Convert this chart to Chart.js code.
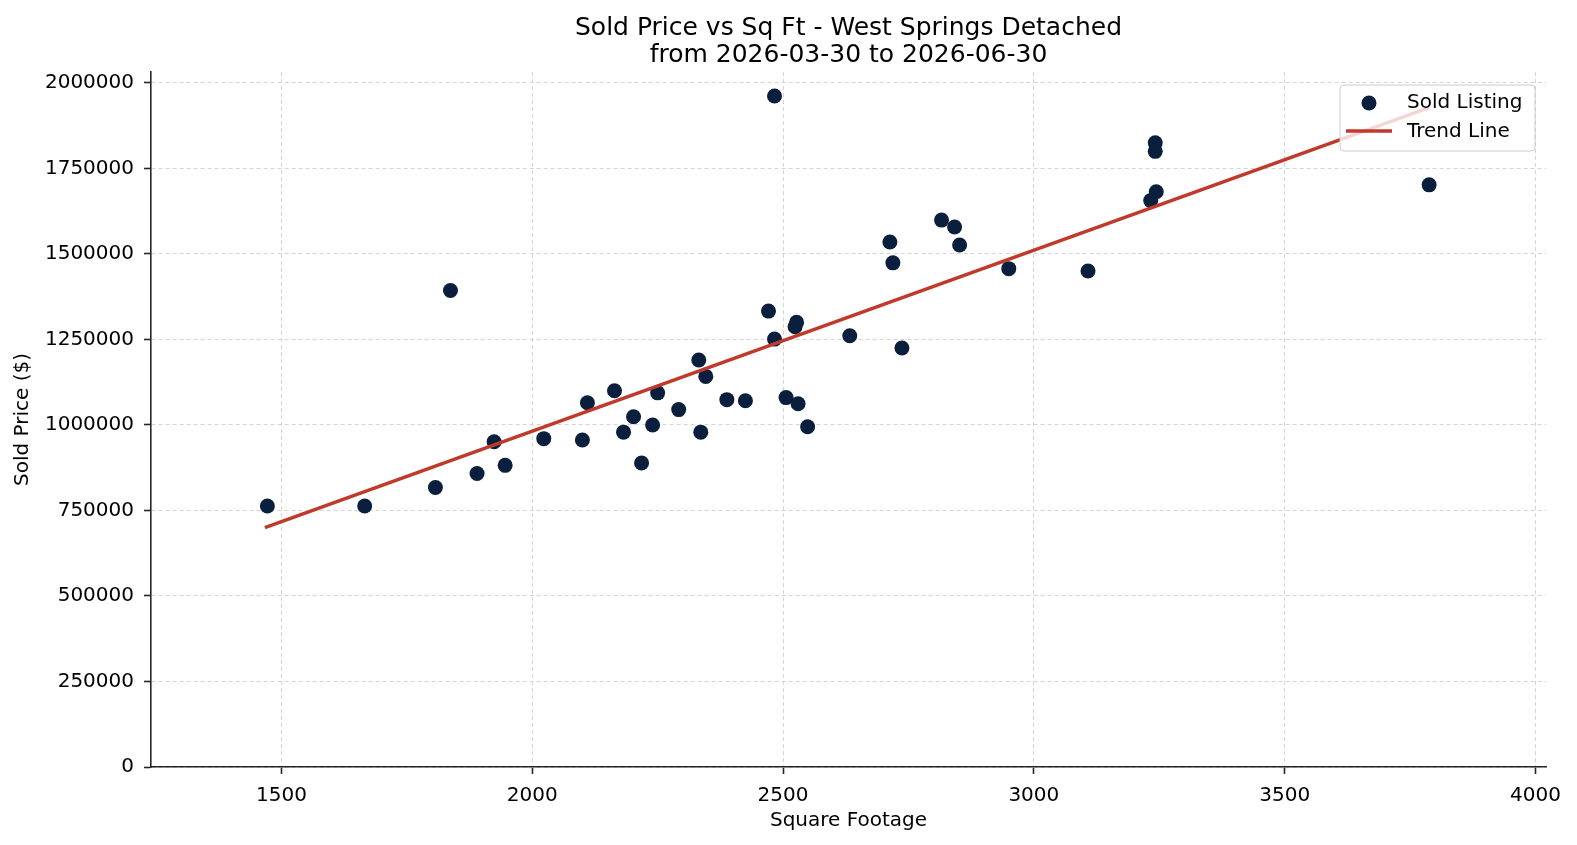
<!DOCTYPE html>
<html lang="en">

<head>
    <meta charset="UTF-8">
    <title>Sold Price vs Sq Ft - West Springs Detached</title>
    <style>
        body {
            margin: 0;
            background: #ffffff;
        }

        canvas {
            display: block;
        }
    </style>
    <script src="https://cdn.jsdelivr.net/npm/chart.js"></script>
</head>

<body>
    <canvas id="myChart" width="1577" height="845"></canvas>

    <script>
        // sold listings
        const sqft = [1472, 1666, 1807, 1837, 1890, 1924, 1946, 2023, 2100, 2110,
            2164, 2182, 2202, 2218, 2240, 2250, 2292, 2332, 2336, 2346,
            2388, 2425, 2471, 2483, 2483, 2506, 2527, 2524, 2530, 2549,
            2633, 2713, 2719, 2737, 2816, 2842, 2852, 2950, 3108, 3233,
            3242, 3242, 3244, 3788];
        const soldPrice = [763000, 763000, 817000, 1393000, 858000, 951000, 882000, 960000, 956000, 1065000,
            1100000, 979000, 1024000, 889000, 1000000, 1094000, 1045000, 1190000, 979000, 1142000,
            1074000, 1071000, 1333000, 1962000, 1251000, 1080000, 1300000, 1287000, 1062000, 995000,
            1261000, 1535000, 1474000, 1225000, 1599000, 1579000, 1526000, 1457000, 1450000, 1656000,
            1825000, 1800000, 1682000, 1702000];

        // trend line end points
        const trendSqft = [1467, 3788];
        const trendPrice = [700000, 1928000];

        const xTicks = [1500, 2000, 2500, 3000, 3500, 4000];
        const yTicks = [0, 250000, 500000, 750000, 1000000, 1250000, 1500000, 1750000, 2000000];

        const FONT = 'DejaVu Sans';
        const AXIS = '#262626';
        const GRID = '#d4d4d4';

        // legend box drawn inside the plot, top right
        const boxLegend = {
            id: 'boxLegend',
            afterDraw(chart) {
                const ctx = chart.ctx;
                const ca = chart.chartArea;
                const w = 195, h = 66;
                const x = ca.right - 11 - w;
                const y = ca.top + 13;
                ctx.save();
                ctx.beginPath();
                ctx.roundRect(x, y, w, h, 4);
                ctx.fillStyle = 'rgba(255,255,255,0.8)';
                ctx.fill();
                ctx.strokeStyle = '#cccccc';
                ctx.lineWidth = 1;
                ctx.stroke();

                const scatter = chart.data.datasets[1];
                const trend = chart.data.datasets[0];
                ctx.fillStyle = scatter.backgroundColor;
                ctx.beginPath();
                ctx.arc(x + 29, y + 18, 7.5, 0, Math.PI * 2);
                ctx.fill();

                ctx.strokeStyle = trend.borderColor;
                ctx.lineWidth = trend.borderWidth;
                ctx.beginPath();
                ctx.moveTo(x + 6, y + 46);
                ctx.lineTo(x + 52, y + 46);
                ctx.stroke();

                ctx.fillStyle = '#000';
                ctx.font = '20px "' + FONT + '"';
                ctx.textBaseline = 'middle';
                ctx.fillText(scatter.label, x + 67, y + 18);
                ctx.fillText(trend.label, x + 67, y + 47);
                ctx.restore();
            }
        };

        const ctx = document.getElementById('myChart').getContext('2d');
        new Chart(ctx, {
            data: {
                datasets: [{
                    type: 'line',
                    label: 'Trend Line',
                    data: trendSqft.map((v, i) => ({ x: v, y: trendPrice[i] })),
                    borderColor: '#c0392b',
                    borderWidth: 3.5,
                    pointRadius: 0,
                    order: 0
                }, {
                    type: 'scatter',
                    label: 'Sold Listing',
                    data: sqft.map((v, i) => ({ x: v, y: soldPrice[i] })),
                    backgroundColor: '#0a1f3d',
                    borderWidth: 0,
                    pointRadius: 7.5,
                    order: 1
                }]
            },
            options: {
                responsive: false,
                animation: false,
                devicePixelRatio: 1,
                layout: {
                    padding: { left: 0, right: 31, top: 0, bottom: 18 }
                },
                plugins: {
                    legend: { display: false },
                    tooltip: { enabled: false },
                    title: {
                        display: true,
                        fullSize: false,
                        text: ['Sold Price vs Sq Ft - West Springs Detached', 'from 2026-03-30 to 2026-06-30'],
                        color: '#000',
                        font: { family: FONT, size: 25, weight: 'normal', lineHeight: 1.08 },
                        padding: { top: 15, bottom: 3 }
                    }
                },
                scales: {
                    x: {
                        type: 'linear',
                        min: 1240,
                        max: 4021,
                        afterBuildTicks: s => { s.ticks = xTicks.map(v => ({ value: v })); },
                        afterFit: s => { s.height -= 3; },
                        grid: { color: GRID, lineWidth: 1, tickLength: 7, tickColor: AXIS, tickWidth: 1.6 },
                        border: { color: AXIS, width: 1.6, dash: [4, 3] },
                        ticks: { color: '#000', font: { family: FONT, size: 20, lineHeight: 1.0 }, padding: 12, maxRotation: 0, callback: v => String(v) },
                        title: { display: true, text: 'Square Footage', color: '#000', font: { family: FONT, size: 20, lineHeight: 0.6 }, padding: { top: 0, bottom: 0 } }
                    },
                    y: {
                        type: 'linear',
                        min: 0,
                        max: 2032000,
                        afterBuildTicks: s => { s.ticks = yTicks.map(v => ({ value: v })); },
                        afterFit: s => { s.width = 151; },
                        grid: { color: GRID, lineWidth: 1, tickLength: 7, tickColor: AXIS, tickWidth: 1.6 },
                        border: { color: AXIS, width: 1.6, dash: [4, 3] },
                        ticks: { color: '#000', font: { family: FONT, size: 20 }, padding: 10, callback: v => String(v) },
                        title: { display: true, text: 'Sold Price ($)', color: '#000', font: { family: FONT, size: 20 }, padding: { top: 11, bottom: 4 } }
                    }
                }
            },
            plugins: [boxLegend]
        });
    </script>
</body>

</html>
